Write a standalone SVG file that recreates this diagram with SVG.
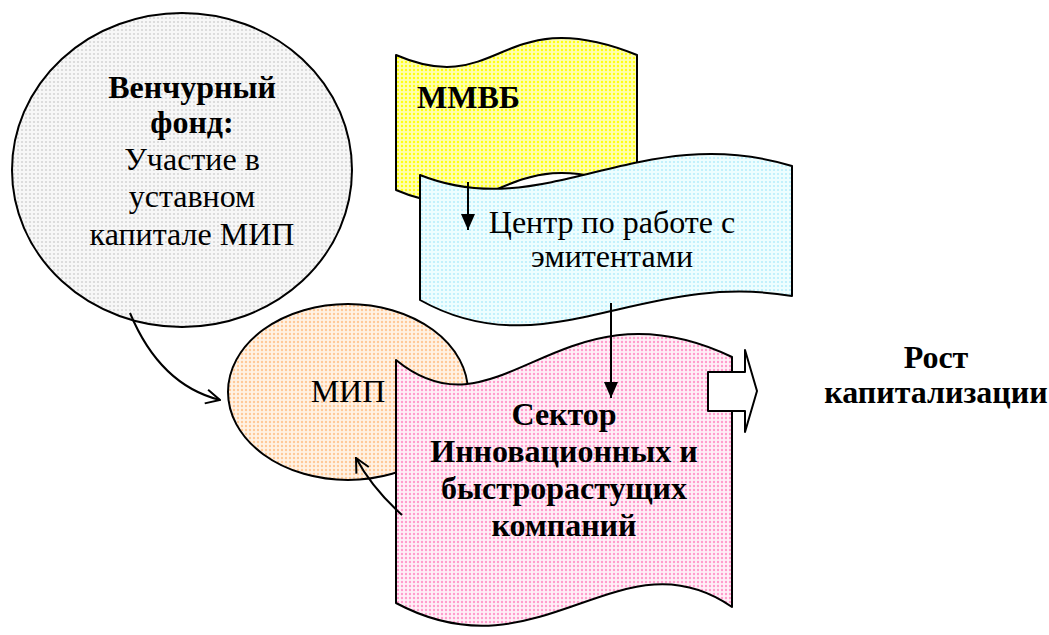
<svg xmlns="http://www.w3.org/2000/svg" width="1049" height="635" viewBox="0 0 1049 635">
<style>
.sh{stroke:#000;stroke-width:2;stroke-linejoin:round}
.t{font-family:'Liberation Serif','Times New Roman','DejaVu Serif',serif;font-size:32px;fill:#000}
.b{font-weight:bold}
.c{text-anchor:middle}
.ln{fill:none;stroke:#000;stroke-width:2}
</style>
<defs>
<pattern id="pGrey" width="4" height="4" patternUnits="userSpaceOnUse"><rect width="4" height="4" fill="#f7f7f7"/><circle cx="2" cy="2" r="1.1" fill="#d6d6d6"/></pattern>
<pattern id="pYellow" width="4" height="4" patternUnits="userSpaceOnUse"><rect width="4" height="4" fill="#ffffb0"/><circle cx="2" cy="2" r="1.2" fill="#ffff10"/></pattern>
<pattern id="pCyan" width="4" height="4" patternUnits="userSpaceOnUse"><rect width="4" height="4" fill="#eefeff"/><circle cx="2" cy="2" r="1.1" fill="#b8eefc"/></pattern>
<pattern id="pOrange" width="4" height="4" patternUnits="userSpaceOnUse"><rect width="4" height="4" fill="#fff2e4"/><circle cx="2" cy="2" r="1.2" fill="#ffc896"/></pattern>
<pattern id="pPink" width="4" height="4" patternUnits="userSpaceOnUse"><rect width="4" height="4" fill="#fff0f7"/><circle cx="2" cy="2" r="1.2" fill="#ff9ccc"/></pattern>
<marker id="open" viewBox="0 0 16 16" refX="15" refY="8" markerWidth="16" markerHeight="16" markerUnits="userSpaceOnUse" orient="auto"><path d="M1,1 L15,8 L1,15" fill="none" stroke="#000" stroke-width="2"/></marker>
<marker id="fill" viewBox="0 0 16 16" refX="16" refY="8" markerWidth="16" markerHeight="16" markerUnits="userSpaceOnUse" orient="auto"><path d="M0,1 L16,8 L0,15 z" fill="#000"/></marker>
</defs>
<rect width="1049" height="635" fill="#fff"/>

<g id="venture" font-family="Liberation Serif, serif">
<ellipse class="sh" cx="182" cy="170" rx="170" ry="157" fill="url(#pGrey)"/>
<text class="t b c" x="192" y="98">Венчурный</text>
<text class="t b c" x="192" y="133">фонд:</text>
<text class="t c" x="192" y="170">Участие в</text>
<text class="t c" x="192" y="207">уставном</text>
<text class="t c" x="192" y="245">капитале МИП</text>
</g>

<g id="mmvb">
<path class="sh" fill="url(#pYellow)" d="M396,55 C500,100 500,0 637,55 L637,190 C500,135 500,235 396,190 Z"/>
<text class="t b" x="417" y="108">ММВБ</text>
</g>

<g id="center">
<path class="sh" fill="url(#pCyan)" d="M420,175 C545,225 640,120 792,166 L792,296 C640,270 545,370 420,300 Z"/>
<text class="t c" x="612" y="233">Центр по работе с</text>
<text class="t c" x="612" y="267">эмитентами</text>
</g>

<g id="mip">
<ellipse class="sh" cx="348" cy="392" rx="120" ry="88" fill="url(#pOrange)"/>
<text class="t c" x="348" y="402">МИП</text>
</g>

<g id="sector">
<path class="sh" fill="url(#pPink)" d="M396,360 C500,445 560,275 732,357 L732,607 C620,530 540,680 396,603 Z"/>
<text class="t b c" x="564" y="425">Сектор</text>
<text class="t b c" x="564" y="462">Инновационных и</text>
<text class="t b c" x="564" y="499">быстрорастущих</text>
<text class="t b c" x="564" y="536">компаний</text>
</g>

<g id="growth">
<path class="sh" fill="#fff" d="M708,372 L745,372 L745,350 L757,391 L745,432 L745,411 L708,411 Z"/>
<text class="t b c" x="936" y="368">Рост</text>
<text class="t b c" x="936" y="403">капитализации</text>
</g>

<g id="connectors">
<path class="ln" d="M130,313 Q160,385 220,400" marker-end="url(#open)"/>
<path class="ln" d="M402,515 Q372,488 356,458" marker-end="url(#open)"/>
<path class="ln" d="M468,182 L468,230" marker-end="url(#fill)"/>
<path class="ln" d="M611,303 L611,398" marker-end="url(#fill)"/>
</g>
</svg>
